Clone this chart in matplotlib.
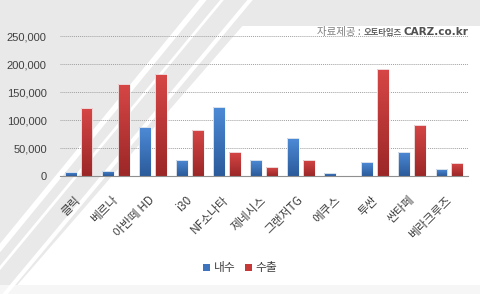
import numpy as np
import matplotlib
matplotlib.use("Agg")
import matplotlib.pyplot as plt
from matplotlib.patches import Polygon
from matplotlib.colors import LinearSegmentedColormap

plt.rcParams['font.family'] = ['Noto Sans CJK KR', 'DejaVu Sans']

# 차종별 내수 / 수출
models = ['클릭', '베르나', '아반떼 HD', 'i30', 'NF소나타', '제네시스',
          '그랜저TG', '에쿠스', '투싼', '싼타페', '베라크루즈']
domestic = [7000, 9000, 87500, 29000, 123000, 28000, 67300, 5400, 25000, 43500, 12000]
export = [121000, 164000, 181600, 81600, 42300, 16000, 29000, 0, 191000, 91600, 23000]
yticks = [0, 50000, 100000, 150000, 200000, 250000]

W, H = 480, 294
fig = plt.figure(figsize=(4.8, 2.94), dpi=100)
fig.patch.set_facecolor('white')

def fp(pts):
    # pixel -> figure fraction
    return [(x / W, 1 - y / H) for x, y in pts]

# background decoration
gray = '#e9e9e9'
for pts, c in [([(0, 0), (W, 0), (W, 26), (0, 26)], gray),
               ([(0, 0), (265, 0), (0, 305)], gray),
               ([(0, 285), (W, 285), (W, H), (0, H)], '#f6f6f6')]:
    fig.patches.append(Polygon(fp(pts), closed=True, transform=fig.transFigure,
                               fc=c, ec='none', zorder=-2))
for (x0, y1, lw) in [(203, 248, 4), (222, 268, 2), (250, 300, 3)]:
    fig.lines.append(plt.Line2D([x0 / W, 0], [1, 1 - y1 / H], transform=fig.transFigure,
                                color='white', lw=lw, zorder=-1))

ax = fig.add_axes([60 / W, 1 - 176 / H, 408 / W, 140 / H])
ax.set_facecolor('none')

x = np.arange(len(models))
w = 0.32
off = 0.215

blue_cm = LinearSegmentedColormap.from_list('b', ['#2b5b9b', '#4d8ad6'])
red_cm = LinearSegmentedColormap.from_list('r', ['#9c2727', '#d64646'])
grad = np.linspace(0, 1, 64).reshape(-1, 1)

def gbars(xs, vals, cm):
    bars = ax.bar(xs, vals, w, color='none', edgecolor='#f2f2f2', lw=0.6, zorder=3)
    for b, v in zip(bars, vals):
        if v <= 0:
            continue
        bx = b.get_x()
        im = ax.imshow(grad, cmap=cm, origin='lower', aspect='auto',
                       extent=[bx, bx + w, 0, v], zorder=2.5)
        im.set_clip_path(b)
    return bars

gbars(x - off, domestic, blue_cm)
gbars(x + off, export, red_cm)

ax.set_xlim(-0.5, len(models) - 0.5)
ax.set_ylim(0, 250000)
ax.set_yticks(yticks)
ax.set_yticklabels([f'{v:,}' for v in yticks], fontsize=8, color='#404040',
                   family='Liberation Sans')
ax.yaxis.grid(True, linestyle=(0, (1, 1)), color='#a0a0a0', lw=0.7)
ax.set_axisbelow(True)
ax.tick_params(axis='y', length=0, pad=9.5)
ax.set_xticks(x)
ax.set_xticklabels(models, rotation=45, ha='right', va='center',
                   rotation_mode='anchor', fontsize=8.5, color='#404040')
for lbl in ax.get_xticklabels():
    lbl.set_x(lbl.get_position()[0])
ax.tick_params(axis='x', length=0, pad=16)
for s in ['top', 'right', 'left']:
    ax.spines[s].set_visible(False)
ax.spines['bottom'].set_color('#909090')

ty = 1 - 32 / H
fig.text(361 / W, ty, '자료제공 :', ha='right', va='center', fontsize=7.5,
         color='#808080')
fig.text(364 / W, ty, '오토타임즈', ha='left', va='center', fontsize=6,
         color='#606060', fontweight='bold')
fig.text(468 / W, ty, 'CARZ.co.kr', ha='right', va='center', fontsize=7.5,
         color='#505050', fontweight='bold', family='DejaVu Sans')

h1 = plt.Rectangle((0, 0), 1, 1, fc='#3d74bd')
h2 = plt.Rectangle((0, 0), 1, 1, fc='#c73838')
fig.legend([h1, h2], ['내수', '수출'], loc='center', bbox_to_anchor=(240 / W, 1 - 268 / H),
           ncol=2, frameon=False, fontsize=8.5, handlelength=0.6, handleheight=0.6,
           handletextpad=0.3, columnspacing=0.8, labelcolor='#404040')

fig.savefig('out.png', dpi=100)
